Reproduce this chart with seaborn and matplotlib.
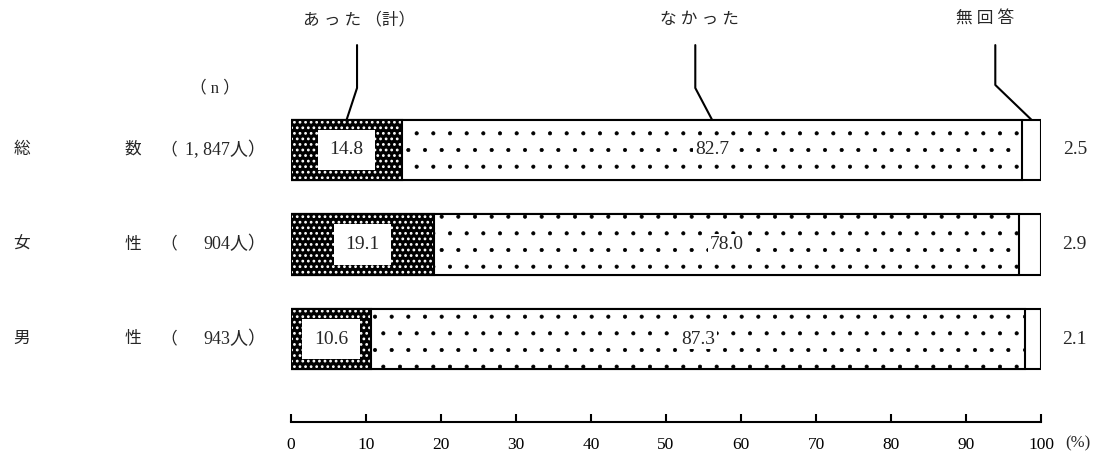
import numpy as np
import pandas as pd
import matplotlib.pyplot as plt
import matplotlib.patches as mpatches
import seaborn as sns

# data
groups = ["総数", "女性", "男性"]
counts = ["1, 847人）", "904人）", "943人）"]
atta = [14.8, 19.1, 10.6]
nakatta = [82.7, 78.0, 87.3]
mukaitou = [2.5, 2.9, 2.1]
headers = ["あ っ た （計）", "な か っ た", "無 回 答"]
xticks = list(range(0, 101, 10))

df = pd.DataFrame({"group": groups, "atta": atta, "nakatta": nakatta, "mukaitou": mukaitou})
df["cum1"] = df["atta"]
df["cum2"] = df["atta"] + df["nakatta"]
df["cum3"] = df["cum2"] + df["mukaitou"]

sns.set_style("white")
plt.rcParams["font.family"] = ["Liberation Serif", "Noto Sans CJK JP"]

fig = plt.figure(figsize=(10.97, 4.57), dpi=100)
ax = fig.add_axes([0.2653, 0.0766, 0.6837, 0.7046])


def set_hatch_lw(container, lw):
    for p in container:
        if hasattr(p, "set_hatch_linewidth"):
            p.set_hatch_linewidth(lw)


bw = 0.635
# stacked bars drawn back to front from cumulative totals
sns.barplot(data=df, x="cum3", y="group", orient="h", color="white",
            edgecolor="black", linewidth=1.5, width=bw, ax=ax)
plt.rcParams["hatch.linewidth"] = 0.5
sns.barplot(data=df, x="cum2", y="group", orient="h", color="white",
            edgecolor="black", linewidth=1.5, width=bw, hatch=".", ax=ax)
set_hatch_lw(ax.containers[-1], 0.5)
plt.rcParams["hatch.linewidth"] = 1.2
sns.barplot(data=df, x="cum1", y="group", orient="h", color="black",
            edgecolor="white", linewidth=0, width=bw, hatch="...", ax=ax)
set_hatch_lw(ax.containers[-1], 1.2)
for p in ax.containers[-1]:
    ax.add_patch(mpatches.Rectangle(p.get_xy(), p.get_width(), p.get_height(),
                                    fill=False, edgecolor="black", linewidth=1.5))

ax.set_xlim(0, 100)
ax.set_ylim(2.878, -0.529)
ax.set_yticks([])
ax.set_ylabel("")
ax.set_xlabel("")
ax.set_xticks(xticks)
ax.set_xticklabels([str(t) for t in xticks], fontsize=12.5)
ax.tick_params(axis="x", bottom=True, direction="in", length=6, width=1.5,
               pad=11, colors="black")
for s in ["top", "right", "left"]:
    ax.spines[s].set_visible(False)
ax.spines["bottom"].set_linewidth(1.5)
ax.spines["bottom"].set_color("black")
ax.text(104.9, 3.105, "(%)", ha="center", va="center", fontsize=12, clip_on=False)

# value labels
for i, row in df.iterrows():
    ax.text(row["atta"] / 2, i, f"{row['atta']:.1f}", ha="center", va="center", fontsize=14,
            bbox=dict(boxstyle="square,pad=0.6", facecolor="white", edgecolor="none"))
    ax.text(row["atta"] + row["nakatta"] / 2, i, f"{row['nakatta']:.1f}", ha="center",
            va="center", fontsize=14,
            bbox=dict(boxstyle="square,pad=0.1", facecolor="white", edgecolor="none"))
    ax.text(104.5, i, f"{row['mukaitou']:.1f}", ha="center", va="center", fontsize=14,
            clip_on=False)
    # row labels
    ax.text(-35.9, i, groups[i][0], ha="center", va="center", fontsize=12, clip_on=False)
    ax.text(-21.1, i, groups[i][1], ha="center", va="center", fontsize=12, clip_on=False)
    ax.text(-17.4, i, "（", ha="left", va="center", fontsize=12, clip_on=False)
    ax.text(-3.3, i, counts[i], ha="right", va="center", fontsize=13, clip_on=False)

ax.text(-10.1, -0.656, "（ n ）", ha="center", va="center", fontsize=12, clip_on=False)

# header labels with leader lines to the first bar
top = -bw / 2
mids = [df["atta"][0] / 2,
        df["atta"][0] + df["nakatta"][0] / 2,
        df["cum2"][0] + df["mukaitou"][0] / 2]
text_x = [9.07, 54.5, 92.5]
line_x = [8.8, 53.9, 93.9]
knee_y = [-0.656, -0.656, -0.688]
for h, tx, lx, ky, m in zip(headers, text_x, line_x, knee_y, mids):
    ax.text(tx, -1.376, h, ha="center", va="center", fontsize=12, clip_on=False)
    ax.plot([lx, lx, m], [-1.11, ky, top], color="black", linewidth=1.5, clip_on=False)

fig.savefig("out.png", dpi=100)
